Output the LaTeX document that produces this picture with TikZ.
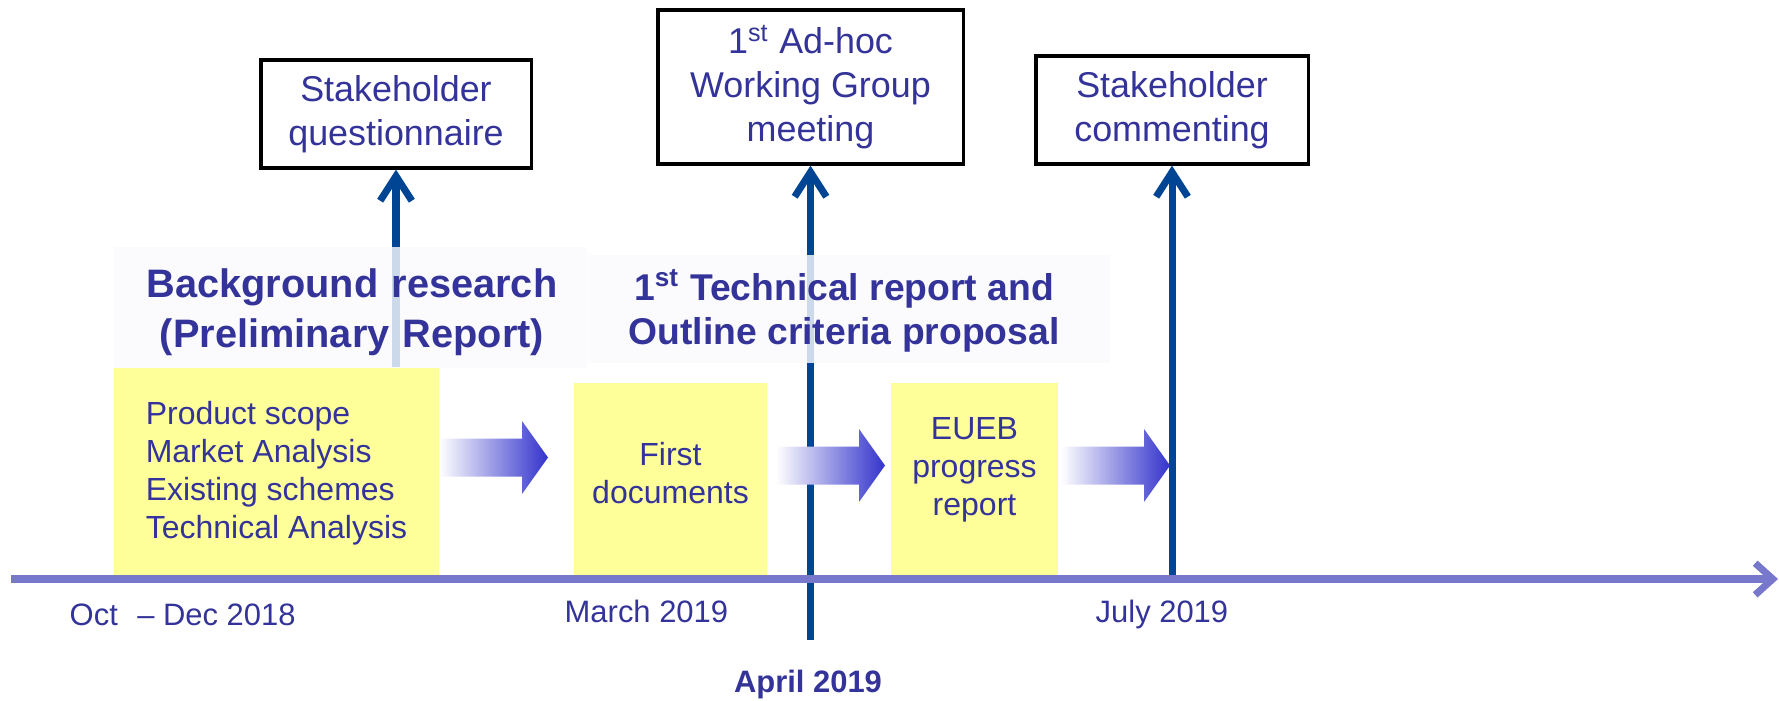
\documentclass[tikz,border=0pt]{standalone}
\usepackage{fontspec}
\setmainfont{Liberation Sans}
\usetikzlibrary{arrows.meta}
\definecolor{txtblue}{RGB}{51,51,153}
\definecolor{vblue}{RGB}{0,68,148}
\definecolor{axcol}{RGB}{119,119,204}
\definecolor{garrow}{RGB}{51,51,204}
\definecolor{yel}{RGB}{255,255,153}
\definecolor{bgc}{RGB}{250,250,253}
\tikzset{
  evbox/.style={draw=black, line width=0.9pt, fill=white, text=txtblue, align=center,
    font=\fontsize{10.2}{12.5}\selectfont, inner sep=0pt},
  ybox/.style={fill=yel, inner sep=0pt, text=txtblue, font=\fontsize{9.1}{10.8}\selectfont},
  ytext/.style={text=txtblue, align=center, font=\fontsize{9.1}{10.8}\selectfont, inner sep=0pt},
  titletext/.style={text=txtblue, align=center, inner sep=0pt},
  datetext/.style={text=txtblue, font=\fontsize{8.8}{10}\selectfont, inner sep=0pt},
  evarrow/.style={draw=vblue, line width=2pt, -{Straight Barb[length=7pt,width=9pt]}},
  axisline/.style={draw=axcol, line width=2pt, -{Straight Barb[length=5pt,width=9pt]}},
  labelbg/.style={fill=bgc, fill opacity=0.82},
  garr/.pic={\shade[left color=white, right color=garrow]
    (0,-19) -- (83,-19) -- (83,-36.5) -- (109,0) -- (83,36.5) -- (83,19) -- (0,19) -- cycle;}
}
\begin{document}
\begin{tikzpicture}[x=0.01cm,y=-0.01cm]
\useasboundingbox (0,0) rectangle (1779,700);

% event boxes
\node[evbox, minimum width=2.70cm, minimum height=1.08cm] (sq) at (396,114) {Stakeholder\\questionnaire};
\node[evbox, minimum width=3.05cm, minimum height=1.54cm] (wg) at (810.5,87) {1\textsuperscript{st} Ad-hoc\\Working Group\\meeting};
\node[evbox, minimum width=2.72cm, minimum height=1.08cm] (sc) at (1172,110) {Stakeholder\\commenting};

% axis coordinates
\coordinate (axL) at (11,579);
\coordinate (axR) at (1778,579);
\coordinate (aprilEnd) at (810.5,640);

% yellow boxes
\node[ybox, align=left, minimum width=3.25cm, minimum height=2.11cm] (yb1) at (276.5,473.5)
  {Product scope\\Market Analysis\\Existing schemes\\Technical Analysis};
\node[ybox, minimum width=1.93cm, minimum height=1.96cm] (yb2) at (670.5,481) {};
\node[ybox, minimum width=1.67cm, minimum height=1.96cm] (yb3) at (974.5,481) {};

% vertical event arrows
\draw[evarrow] (sq.south |- yb1.north) -- (sq.south);
\draw[evarrow] (aprilEnd) -- (wg.south);
\draw[evarrow] (sc.south |- axL) -- (sc.south);

% label backgrounds
\fill[labelbg] (114,247) rectangle (587,368);
\fill[labelbg] (588,255) rectangle (1110,363);

% phase titles
\node[titletext, font=\bfseries\fontsize{11.3}{14.2}\selectfont] (t1) at (352,312) {Background\,\,research\\(Preliminary\,\,Report)};
\node[titletext, font=\bfseries\fontsize{10.6}{12.5}\selectfont] (t2) at (844,311) {1\textsuperscript{st} Technical report and\\Outline criteria proposal};

% yellow box texts
\node[ytext] (yt2) at (670.5,473.5) {First\\documents};
\node[ytext] (yt3) at (974.5,470) {EUEB\\progress\\report};

% gradient arrows
\pic at (439,457.5) {garr};
\pic at (776,465.5) {garr};
\pic at (1061,465.5) {garr};

% axis
\draw[axisline] (axL) -- (axR);

% dates
\node[datetext, anchor=base west] (d1) at (69,625) {Oct\hspace{0.35em} – Dec 2018};
\node[datetext, anchor=base west] (d2) at (564,622) {March 2019};
\node[datetext, anchor=base west] (d3) at (1095,622) {July 2019};
\node[datetext, font=\bfseries\fontsize{8.8}{10}\selectfont, anchor=base] (d4) at (808,692) {April 2019};
\end{tikzpicture}
\end{document}
